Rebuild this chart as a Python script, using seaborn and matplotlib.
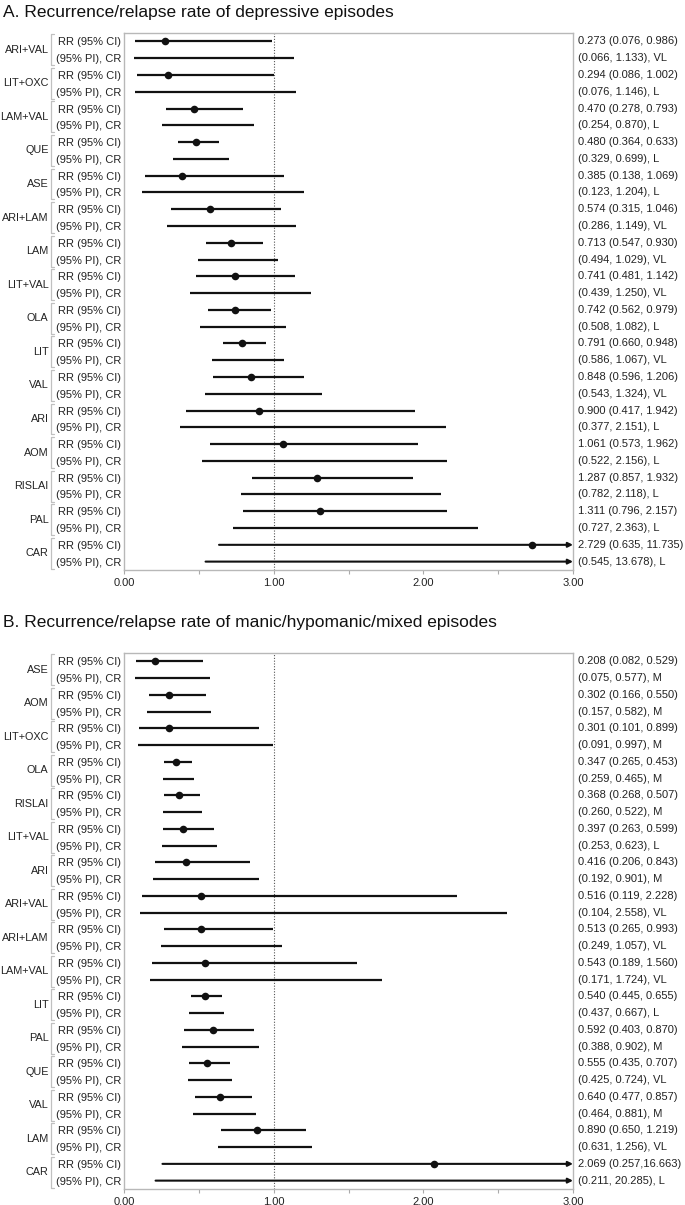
import matplotlib
matplotlib.use("Agg")
import matplotlib.pyplot as plt
import numpy as np
import pandas as pd
import seaborn as sns

# A. depressive episodes
dep_drugs = ["ARI+VAL", "LIT+OXC", "LAM+VAL", "QUE", "ASE", "ARI+LAM", "LAM", "LIT+VAL",
             "OLA", "LIT", "VAL", "ARI", "AOM", "RISLAI", "PAL", "CAR"]
dep_rr = [0.273, 0.294, 0.470, 0.480, 0.385, 0.574, 0.713, 0.741,
          0.742, 0.791, 0.848, 0.900, 1.061, 1.287, 1.311, 2.729]
dep_ci_lo = [0.076, 0.086, 0.278, 0.364, 0.138, 0.315, 0.547, 0.481,
             0.562, 0.660, 0.596, 0.417, 0.573, 0.857, 0.796, 0.635]
dep_ci_hi = [0.986, 1.002, 0.793, 0.633, 1.069, 1.046, 0.930, 1.142,
             0.979, 0.948, 1.206, 1.942, 1.962, 1.932, 2.157, 11.735]
dep_pi_lo = [0.066, 0.076, 0.254, 0.329, 0.123, 0.286, 0.494, 0.439,
             0.508, 0.586, 0.543, 0.377, 0.522, 0.782, 0.727, 0.545]
dep_pi_hi = [1.133, 1.146, 0.870, 0.699, 1.204, 1.149, 1.029, 1.250,
             1.082, 1.067, 1.324, 2.151, 2.156, 2.118, 2.363, 13.678]
dep_cert = ["VL", "L", "L", "L", "L", "VL", "VL", "VL",
            "L", "VL", "VL", "L", "L", "L", "L", "L"]

# B. manic/hypomanic/mixed episodes
man_drugs = ["ASE", "AOM", "LIT+OXC", "OLA", "RISLAI", "LIT+VAL", "ARI", "ARI+VAL",
             "ARI+LAM", "LAM+VAL", "LIT", "PAL", "QUE", "VAL", "LAM", "CAR"]
man_rr = [0.208, 0.302, 0.301, 0.347, 0.368, 0.397, 0.416, 0.516,
          0.513, 0.543, 0.540, 0.592, 0.555, 0.640, 0.890, 2.069]
man_ci_lo = [0.082, 0.166, 0.101, 0.265, 0.268, 0.263, 0.206, 0.119,
             0.265, 0.189, 0.445, 0.403, 0.435, 0.477, 0.650, 0.257]
man_ci_hi = [0.529, 0.550, 0.899, 0.453, 0.507, 0.599, 0.843, 2.228,
             0.993, 1.560, 0.655, 0.870, 0.707, 0.857, 1.219, 16.663]
man_pi_lo = [0.075, 0.157, 0.091, 0.259, 0.260, 0.253, 0.192, 0.104,
             0.249, 0.171, 0.437, 0.388, 0.425, 0.464, 0.631, 0.211]
man_pi_hi = [0.577, 0.582, 0.997, 0.465, 0.522, 0.623, 0.901, 2.558,
             1.057, 1.724, 0.667, 0.902, 0.724, 0.881, 1.256, 20.285]
man_cert = ["M", "M", "M", "M", "M", "L", "M", "VL",
            "VL", "VL", "L", "M", "VL", "M", "VL", "L"]
man_ci_text_override = {"CAR": "2.069 (0.257,16.663)"}

XMAX = 3.0
INK = "#111111"
TXT = "#222222"
W, H = 685, 1205


def build_frame(drugs, rr, ci_lo, ci_hi, pi_lo, pi_hi, cert, overrides=None):
    overrides = overrides or {}
    rows = []
    for i, d in enumerate(drugs):
        ci_txt = overrides.get(d, f"{rr[i]:.3f} ({ci_lo[i]:.3f}, {ci_hi[i]:.3f})")
        rows.append(dict(drug=d, row=2 * i, est=rr[i], lo=ci_lo[i], hi=ci_hi[i],
                         label="RR (95% CI)", text=ci_txt))
        rows.append(dict(drug=d, row=2 * i + 1, est=np.nan, lo=pi_lo[i], hi=pi_hi[i],
                         label="(95% PI), CR",
                         text=f"({pi_lo[i]:.3f}, {pi_hi[i]:.3f}), {cert[i]}"))
    return pd.DataFrame(rows)


def draw_panel(ax, df):
    n = len(df)
    for _, r in df.iterrows():
        if r.hi > XMAX:
            # off-scale upper limit: arrow to the axis edge
            ax.annotate("", xy=(XMAX, r.row), xytext=(r.lo, r.row),
                        arrowprops=dict(arrowstyle="-|>", color=INK, lw=1.5,
                                        mutation_scale=7, shrinkA=0, shrinkB=0))
        else:
            ax.hlines(r.row, r.lo, r.hi, color=INK, lw=1.6)
    sns.scatterplot(data=df.dropna(subset=["est"]), x="est", y="row", color=INK,
                    s=30, edgecolor=INK, linewidth=0, zorder=3, legend=False, ax=ax)
    ax.axvline(1.0, color="#555555", lw=0.8, ls=(0, (1, 1.5)), zorder=1)

    ax.set_xlim(0, XMAX)
    ax.set_ylim(n - 0.5, -0.5)
    ax.set_xlabel("")
    ax.set_ylabel("")
    ax.set_xticks([0, 1, 2, 3])
    ax.set_xticklabels(["0.00", "1.00", "2.00", "3.00"], fontsize=8, color=TXT)
    ax.set_xticks([0.5, 1.5, 2.5], minor=True)
    ax.tick_params(axis="x", which="both", length=3, width=0.8, color="#aaaaaa",
                   direction="out", pad=3, bottom=True)
    ax.set_yticks(df["row"])
    ax.set_yticklabels(df["label"], fontsize=8, color=TXT)
    ax.tick_params(axis="y", length=0, pad=2)
    for s in ax.spines.values():
        s.set_color("#b8b8b8")
        s.set_linewidth(1.0)

    trans = ax.get_yaxis_transform()
    for _, r in df.iterrows():
        ax.text(1.011, r.row, r.text, transform=trans,
                ha="left", va="center", fontsize=8, color=TXT)

    # drug names with brackets
    for i, d in enumerate(df["drug"].unique()):
        y0, y1 = 2 * i - 0.42, 2 * i + 1 + 0.42
        ax.text(-0.168, 2 * i + 0.5, d, transform=trans, ha="right", va="center",
                fontsize=7.8, color=TXT)
        ax.plot([-0.157, -0.162, -0.162, -0.157], [y0, y0, y1, y1], transform=trans,
                color="#c0c0c0", lw=0.9, clip_on=False)


sns.set_style("white")
plt.rcParams["font.family"] = ["Liberation Sans", "DejaVu Sans"]

fig = plt.figure(figsize=(W / 100, H / 100), dpi=100)
ax_a = fig.add_axes([124 / W, 1 - 570 / H, 449 / W, 537 / H])
ax_b = fig.add_axes([124 / W, 1 - 1189 / H, 449 / W, 536 / H])

df_a = build_frame(dep_drugs, dep_rr, dep_ci_lo, dep_ci_hi, dep_pi_lo, dep_pi_hi, dep_cert)
df_b = build_frame(man_drugs, man_rr, man_ci_lo, man_ci_hi, man_pi_lo, man_pi_hi, man_cert,
                   man_ci_text_override)
draw_panel(ax_a, df_a)
draw_panel(ax_b, df_b)

fig.text(3 / W, 1 - 12 / H, "A. Recurrence/relapse rate of depressive episodes",
         ha="left", va="center", fontsize=12.5, color=INK)
fig.text(3 / W, 1 - 622 / H, "B. Recurrence/relapse rate of manic/hypomanic/mixed episodes",
         ha="left", va="center", fontsize=12.5, color=INK)

fig.savefig("out.png", dpi=100)
